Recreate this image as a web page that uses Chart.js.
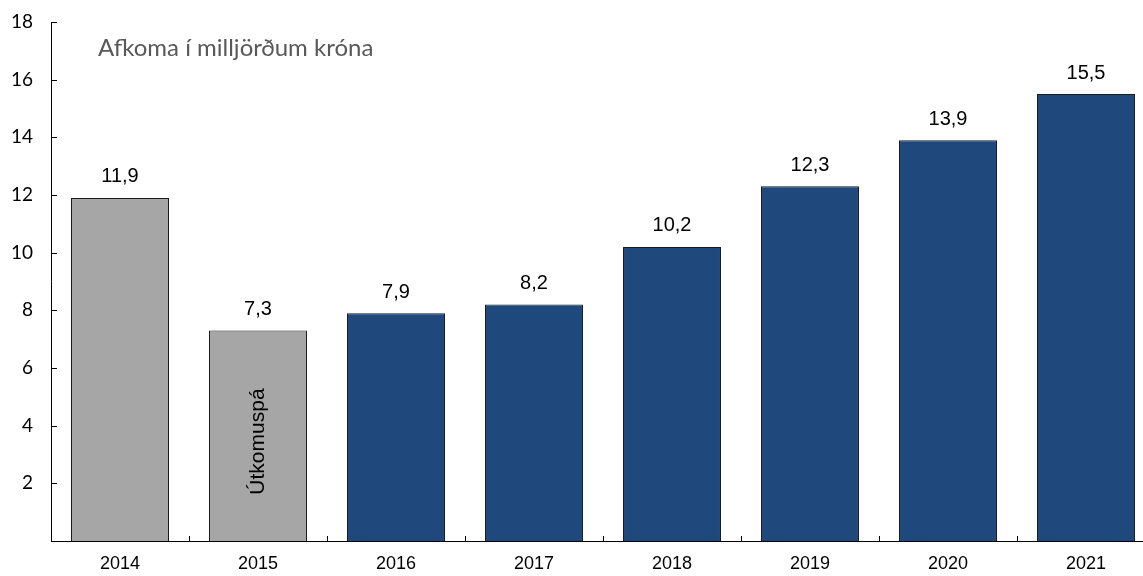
<!DOCTYPE html>
<html><head><meta charset="utf-8">
<script src="https://cdn.jsdelivr.net/npm/chart.js@4"></script>
<style>html,body{margin:0;padding:0;overflow:hidden;background:#fff}#wrap{width:1155px;height:576px}</style>
</head><body><div id="wrap"><canvas id="c" width="1155" height="576"></canvas></div>
<script>
const categories = ['2014','2015','2016','2017','2018','2019','2020','2021'];
const values = [11.9, 7.3, 7.9, 8.2, 10.2, 12.3, 13.9, 15.5];
const barColors = ['#a6a6a6','#a6a6a6','#1f497d','#1f497d','#1f497d','#1f497d','#1f497d','#1f497d'];
const yTicks = [2,4,6,8,10,12,14,16,18];
const titleText = 'Afkoma í milljörðum króna';
const noteText = 'Útkomuspá';
const noteIndex = 1;

const decor = {
  id: 'decor',
  afterDraw(chart) {
    const ctx = chart.ctx, ca = chart.chartArea;
    const xs = chart.scales.x, ys = chart.scales.y;
    ctx.save();
    ctx.strokeStyle = '#000'; ctx.lineWidth = 1;
    ctx.beginPath();
    ctx.moveTo(ca.left + 0.5, ys.getPixelForValue(18));
    ctx.lineTo(ca.left + 0.5, ca.bottom);
    ctx.moveTo(ca.left, ca.bottom + 0.5);
    ctx.lineTo(ca.right, ca.bottom + 0.5);
    yTicks.forEach(v => {
      const y = Math.round(ys.getPixelForValue(v)) + 0.5;
      ctx.moveTo(ca.left, y); ctx.lineTo(ca.left + 6, y);
    });
    for (let i = 1; i < categories.length; i++) {
      const x = Math.round((xs.getPixelForValue(i - 1) + xs.getPixelForValue(i)) / 2) + 0.5;
      ctx.moveTo(x, ca.bottom); ctx.lineTo(x, ca.bottom - 5);
    }
    ctx.stroke();
    ctx.fillStyle = '#000';
    ctx.font = '20px "Liberation Sans", Arial, sans-serif';
    ctx.textAlign = 'center'; ctx.textBaseline = 'bottom';
    const meta = chart.getDatasetMeta(0);
    meta.data.forEach((bar, i) => {
      ctx.fillText(values[i].toFixed(1).replace('.', ','), bar.x, bar.y - 11);
    });
    const nb = meta.data[noteIndex];
    ctx.save();
    ctx.translate(nb.x, ys.getPixelForValue(3.45));
    ctx.rotate(-Math.PI / 2);
    ctx.textBaseline = 'middle';
    ctx.font = '21px "Liberation Sans", Arial, sans-serif';
    ctx.fillText(noteText, 0, 0);
    ctx.restore();
    ctx.fillStyle = '#595959';
    ctx.font = '24px Lato, "Open Sans", sans-serif';
    ctx.textAlign = 'left'; ctx.textBaseline = 'middle';
    ctx.fillText(titleText, ca.left + 47, ys.getPixelForValue(17.1));
    ctx.restore();
  }
};

new Chart(document.getElementById('c'), {
  type: 'bar',
  data: {
    labels: categories,
    datasets: [{
      data: values,
      backgroundColor: barColors,
      borderColor: '#1a1a1a',
      borderWidth: 1,
      barPercentage: 0.71,
      categoryPercentage: 1
    }]
  },
  options: {
    responsive: false,
    animation: false,
    layout: { padding: { top: 22, right: 0, left: 0, bottom: 0 } },
    plugins: { legend: { display: false }, tooltip: { enabled: false }, title: { display: false } },
    scales: {
      x: {
        offset: true,
        grid: { display: false, drawTicks: false },
        border: { display: false },
        ticks: { color: '#000', font: { family: '"Liberation Sans", Arial, sans-serif', size: 18 }, padding: 12, maxRotation: 0 },
        afterFit(s) { s.height = 35; }
      },
      y: {
        min: 0, max: 18,
        afterBuildTicks(s) { s.ticks = yTicks.map(v => ({ value: v })); },
        grid: { display: false, drawTicks: false },
        border: { display: false },
        ticks: { color: '#000', font: { family: 'Lato, "Open Sans", sans-serif', size: 19, lineHeight: 0.3 }, padding: 18, callback: v => String(v) },
        afterFit(s) { s.width = 51; }
      }
    }
  },
  plugins: [decor]
});
</script>
</body></html>
